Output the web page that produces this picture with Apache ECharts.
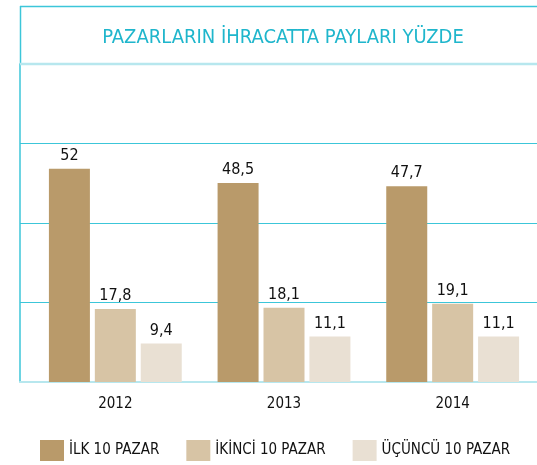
<!DOCTYPE html>
<html lang="tr">
<head>
<meta charset="UTF-8">
<title>Pazarların ihracatta payları</title>
<script src="https://cdn.jsdelivr.net/npm/echarts@6/dist/echarts.min.js"></script>
<style>
	html, body { margin: 0; padding: 0; background: #fff; }
	#main { width: 537px; height: 465px; }
</style>
</head>
<body>
<div id="main"></div>
<script>
// data (percent)
var years = ['2012', '2013', '2014'];
var seriesNames = ['İLK 10 PAZAR', 'İKİNCİ 10 PAZAR', 'ÜÇÜNCÜ 10 PAZAR'];
var ilk10 = [52, 48.5, 47.7];
var ikinci10 = [17.8, 18.1, 19.1];
var ucuncu10 = [9.4, 11.1, 11.1];

var colors = ['#b99a6a', '#d7c4a5', '#e9e0d3'];
var teal = '#3cc6d9';
var lightTeal = '#b7e7ee';
var font = '"Liberation Sans Narrow", "DejaVu Sans Condensed", sans-serif';
var yMax = 77.5;

var chart = echarts.init(document.getElementById('main'));

function barSeries(name, data, color) {
	return {
		name: name,
		type: 'bar',
		xAxisIndex: 1,
		yAxisIndex: 1,
		data: data,
		barWidth: 41,
		barGap: '12%',
		itemStyle: { color: color },
		label: {
			show: true,
			position: 'top',
			distance: 5,
			color: '#111',
			fontFamily: font,
			fontSize: 16,
			formatter: function (p) { return String(p.value).replace('.', ','); }
		}
	};
}

var option = {
	animation: false,
	color: colors,
	title: {
		text: 'PAZARLARIN İHRACATTA PAYLARI YÜZDE',
		left: 278,
		top: 23,
		textAlign: 'center',
		textStyle: { color: '#1fb6cc', fontFamily: font, fontSize: 20, fontWeight: 'normal' }
	},
	legend: {
		left: 35,
		top: 435,
		width: 502,
		itemWidth: 24,
		itemHeight: 21,
		itemGap: 27,
		icon: 'rect',
		textStyle: { color: '#111', fontFamily: font, fontSize: 15 },
		data: seriesNames
	},
	grid: [
		// frame grid: gridlines, left line and base line
		{ left: 20, right: 0, top: 64, bottom: 83 },
		// bars
		{ left: 31, right: -7, top: 64, bottom: 83 }
	],
	xAxis: [
		{
			gridIndex: 0, type: 'category', data: years,
			axisLine: { show: true, lineStyle: { color: lightTeal, width: 2 } },
			axisTick: { show: false }, axisLabel: { show: false }
		},
		{
			gridIndex: 1, type: 'category', data: years,
			axisLine: { show: false }, axisTick: { show: false },
			axisLabel: { margin: 15, color: '#111', fontFamily: font, fontSize: 15 }
		}
	],
	yAxis: [
		{
			gridIndex: 0, type: 'value', min: 0, max: yMax, interval: yMax / 4,
			axisLine: { show: true, lineStyle: { color: teal, width: 1.5 } },
			axisTick: { show: false }, axisLabel: { show: false },
			splitLine: { show: true, lineStyle: { color: teal, width: 1.2 } }
		},
		{
			gridIndex: 1, type: 'value', min: 0, max: yMax, interval: yMax / 4,
			axisLine: { show: false }, axisTick: { show: false }, axisLabel: { show: false },
			splitLine: { show: false }
		}
	],
	series: [
		barSeries(seriesNames[0], ilk10, colors[0]),
		barSeries(seriesNames[1], ikinci10, colors[1]),
		barSeries(seriesNames[2], ucuncu10, colors[2])
	],
	graphic: [
		{ type: 'line', shape: { x1: 20, y1: 6.5, x2: 537, y2: 6.5 }, style: { stroke: teal, lineWidth: 1.5 } },
		{ type: 'line', shape: { x1: 20.5, y1: 6, x2: 20.5, y2: 64 }, style: { stroke: teal, lineWidth: 1.5 } },
		{ type: 'line', z: 10, shape: { x1: 20, y1: 64, x2: 537, y2: 64 }, style: { stroke: lightTeal, lineWidth: 2.5 } }
	]
};

chart.setOption(option);
</script>
</body>
</html>
